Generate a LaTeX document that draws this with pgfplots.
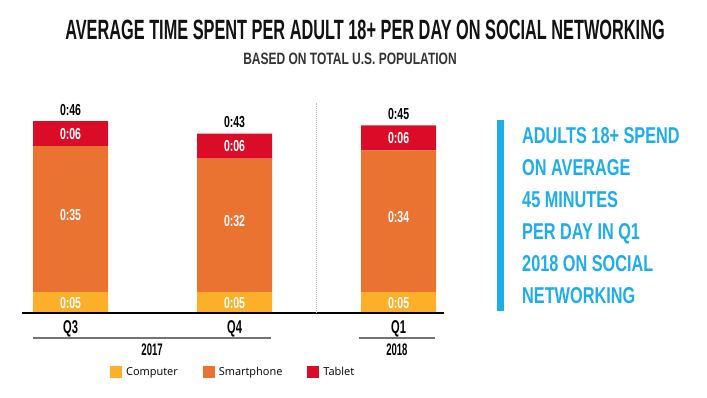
\documentclass[border=0pt]{standalone}
\usepackage{pgfplots}
\pgfplotsset{compat=1.18}
\usepackage{fontspec}
\usepackage{graphicx}
\setmainfont{Liberation Sans}
\newfontfamily\opensans{Open Sans}
\definecolor{comp}{HTML}{FCB02A}
\definecolor{smart}{HTML}{EB7331}
\definecolor{tab}{HTML}{DA0C28}
\definecolor{blu}{HTML}{1DADE8}
\newcommand{\cs}[3]{{\fontsize{#2}{#2}\selectfont\bfseries\scalebox{#1}[1]{#3}}}
\newcommand{\wl}[1]{\cs{0.66}{16}{#1}}
\pgfplotsset{frame/.style={
  at={(22bp,84bp)}, anchor=south west,
  scale only axis, width=422bp, height=208.5bp,
  xmin=-0.296, xmax=2.277, ymin=0, ymax=50,
  axis lines=none, clip=false}}
\begin{document}
\begin{tikzpicture}[x=1bp,y=1bp]
\path[use as bounding box] (0,0) rectangle (707,397);
\node[anchor=base, inner sep=0pt, text=black!93] at (365,358) {\cs{0.585}{28}{AVERAGE TIME SPENT PER ADULT 18+ PER DAY ON SOCIAL NETWORKING}};
\node[anchor=base, inner sep=0pt, text=black!80] at (350,333) {\cs{0.73}{16.5}{BASED ON TOTAL U.S. POPULATION}};
% right call-out
\fill[blu] (497,86) rectangle (504,277);
\foreach \t [count=\i from 0] in {ADULTS 18+ SPEND, ON AVERAGE, 45 MINUTES, PER DAY IN Q1, 2018 ON SOCIAL, NETWORKING}{
  \node[anchor=base west, inner sep=0pt, text=blu] at (522,{397-143-32*\i}) {\cs{0.71}{23}{\t}};
}
\begin{axis}[
  frame,
  ybar stacked, bar width=0.457,
  legend columns=3,
  legend style={at={(axis description cs:0.2085,-0.283)}, anchor=west, draw=none, fill=none, inner sep=0pt,
    font=\opensans\fontsize{11}{12}\selectfont,
    /tikz/every even column/.append style={column sep=23bp},
    /tikz/every odd column/.append style={column sep=2bp}},
  legend image code/.code={\fill[#1] (0bp,-6bp) rectangle (12bp,6bp);},
]
\addplot[fill=comp, draw=none] coordinates {(0,5) (1,5) (2,5)};
\addplot[fill=smart, draw=none] coordinates {(0,35) (1,32) (2,34)};
\addplot[fill=tab, draw=none] coordinates {(0,6) (1,6) (2,6)};
\legend{Computer,Smartphone,Tablet}
\end{axis}
\begin{axis}[frame]
\draw[line width=2.5bp, black] (axis cs:-0.296,0) -- (axis cs:2.277,0);
\draw[densely dotted, black!25, line width=1bp] (axis cs:1.5,0) -- (axis cs:1.5,50.4);
% segment labels
\node[text=white, inner sep=0pt] at (axis cs:0,2.5) {\wl{0:05}};
\node[text=white, inner sep=0pt] at (axis cs:1,2.5) {\wl{0:05}};
\node[text=white, inner sep=0pt] at (axis cs:2,2.5) {\wl{0:05}};
\node[text=white, inner sep=0pt] at (axis cs:0,23.6) {\wl{0:35}};
\node[text=white, inner sep=0pt] at (axis cs:1,22.1) {\wl{0:32}};
\node[text=white, inner sep=0pt] at (axis cs:2,23.1) {\wl{0:34}};
\node[text=white, inner sep=0pt] at (axis cs:0,43) {\wl{0:06}};
\node[text=white, inner sep=0pt] at (axis cs:1,40) {\wl{0:06}};
\node[text=white, inner sep=0pt] at (axis cs:2,42) {\wl{0:06}};
\node[anchor=base, inner sep=0pt, text=black] at (axis cs:0,47.45) {\wl{0:46}};
\node[anchor=base, inner sep=0pt, text=black] at (axis cs:1,44.45) {\wl{0:43}};
\node[anchor=base, inner sep=0pt, text=black] at (axis cs:2,46.45) {\wl{0:45}};
% category labels
\node[anchor=base, inner sep=0pt] at ([yshift=-20bp]axis cs:0,0) {\cs{0.6}{18.6}{Q3}};
\node[anchor=base, inner sep=0pt] at ([yshift=-20bp]axis cs:1,0) {\cs{0.6}{18.6}{Q4}};
\node[anchor=base, inner sep=0pt] at ([yshift=-20bp]axis cs:2,0) {\cs{0.6}{18.6}{Q1}};
\draw[black!55, line width=1.3bp] ([yshift=-25bp]axis cs:-0.229,0) -- ([yshift=-25bp]axis cs:1.223,0);
\draw[black!55, line width=1.3bp] ([yshift=-25bp]axis cs:1.759,0) -- ([yshift=-25bp]axis cs:2.223,0);
\node[anchor=base, inner sep=0pt] at ([yshift=-42bp]axis cs:0.497,0) {\cs{0.57}{16.8}{2017}};
\node[anchor=base, inner sep=0pt] at ([yshift=-42bp]axis cs:1.99,0) {\cs{0.57}{16.8}{2018}};
\end{axis}
\end{tikzpicture}
\end{document}
